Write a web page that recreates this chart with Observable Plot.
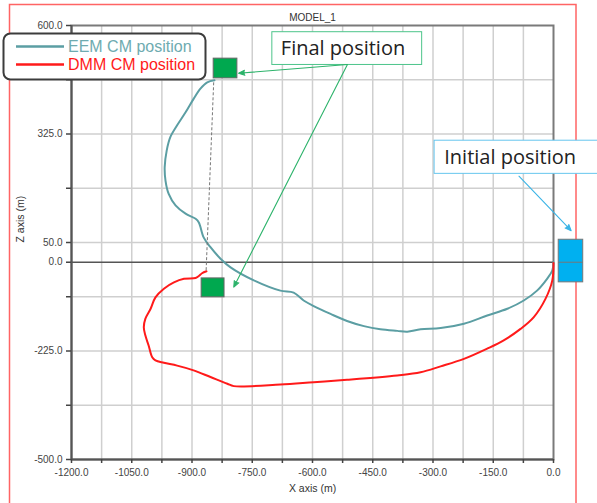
<!DOCTYPE html>
<html><head><meta charset="utf-8">
<script src="https://cdn.jsdelivr.net/npm/d3@7"></script>
<script src="https://cdn.jsdelivr.net/npm/@observablehq/plot@0.6"></script>
<style>
html,body{margin:0;padding:0;background:#fff;}
#wrap{position:relative;width:597px;height:503px;overflow:hidden;}
#wrap > svg{position:absolute;left:0;top:0;}
</style>
</head><body><div id="wrap"></div>
<script>
// ---- data (metres) ----
const title = "MODEL_1";
const xLabel = "X axis (m)";
const zLabel = "Z axis (m)";
const seriesNames = ["EEM CM position", "DMM CM position"];

const eemX = [0, -3, -16, -41, -74, -115, -165, -223, -281, -331, -364, -389, -431, -472, -514, -555, -597, -622, -647, -680, -746, -804, -829, -854, -871, -883, -891, -916, -941, -958, -966, -968, -963, -954, -937, -916, -896, -879, -862, -844];
const eemZ = [0, -21, -42, -72, -97, -118, -135, -156, -167, -170, -176, -174, -170, -162, -149, -131, -111, -97, -77, -72, -46, -13, 9, 38, 63, 101, 110, 123, 144, 173, 207, 241, 283, 317, 347, 380, 414, 440, 456, 461];

const dmmX = [0, -3, -20, -49, -82, -124, -165, -223, -281, -331, -389, -514, -597, -680, -796, -812, -854, -896, -937, -970, -991, -999, -1008, -1016, -1020, -1016, -1003, -991, -970, -945, -920, -891, -883, -875, -864];
const dmmZ = [-2, -46, -93, -139, -169, -198, -219, -245, -264, -279, -287, -298, -304, -310, -314, -308, -291, -274, -262, -255, -249, -241, -211, -186, -165, -143, -118, -89, -67, -51, -42, -40, -35, -28, -23];

const xTicks = [-1200, -1125, -1050, -975, -900, -825, -750, -675, -600, -525, -450, -375, -300, -225, -150, -75, 0];
const xTickLabels = [-1200, -1050, -900, -750, -600, -450, -300, -150, 0];
const zTicks = [600, 462.5, 325, 187.5, 50, 0, -87.5, -225, -362.5, -500];
const zTickLabels = [600, 325, 50, 0, -225, -500];
const zGrid = [462.5, 325, 187.5, 50, -87.5, -225, -362.5];

// annotations (data units)
const finalSqX1 = [-846, -876], finalSqX2 = [-787, -819];
const finalSqZ1 = [466, -89], finalSqZ2 = [516, -41];
const initSqX1 = [13], initSqX2 = [74], initSqZ1 = [-51], initSqZ2 = [57];
const finalNote = {text: "Final position", x1: -700, x2: -327, z1: 500, z2: 583, tx: -524, tz: 541};
const initNote = {text: "Initial position", x1: -296, x2: 160, z1: 224, z2: 308, tx: -108, tz: 266};
const finalArrowX1 = [-513, -513], finalArrowZ1 = [501, 501];
const finalArrowX2 = [-784, -796], finalArrowZ2 = [479, -63];
const initArrowX1 = [-86], initArrowZ1 = [218], initArrowX2 = [44], initArrowZ2 = [80];
const linkX = [-846, -865], linkZ = [456, -25];

const eemColor = "#5b9ea3", dmmColor = "#ff1a1a";

const wrap = document.getElementById("wrap");

// outer red border (behind)
const bg = d3.create("svg").attr("width", 597).attr("height", 503);
bg.append("rect").attr("x", 9.5).attr("y", 4.5).attr("width", 566.5).attr("height", 530)
  .attr("fill", "none").attr("stroke", "#ff6464").attr("stroke-width", 1.5);
wrap.append(bg.node());

const eem = eemX.map((x, i) => ({x, z: eemZ[i]}));
const dmm = dmmX.map((x, i) => ({x, z: dmmZ[i]}));
const finalSq = finalSqX1.map((d, i) => ({x1: d, x2: finalSqX2[i], z1: finalSqZ1[i], z2: finalSqZ2[i]}));
const initSq = initSqX1.map((d, i) => ({x1: d, x2: initSqX2[i], z1: initSqZ1[i], z2: initSqZ2[i]}));
const fArrows = finalArrowX1.map((d, i) => ({x1: d, z1: finalArrowZ1[i], x2: finalArrowX2[i], z2: finalArrowZ2[i]}));
const iArrows = initArrowX1.map((d, i) => ({x1: d, z1: initArrowZ1[i], x2: initArrowX2[i], z2: initArrowZ2[i]}));

const fmt = d => d.toFixed(1);

const chart = Plot.plot({
  width: 597, height: 503,
  marginLeft: 71, marginRight: 44, marginTop: 25, marginBottom: 44,
  style: {background: "transparent", fontFamily: "'Liberation Sans', Arial, sans-serif", fontSize: "10px", color: "#444"},
  x: {domain: [-1200, 0], label: null},
  y: {domain: [-500, 600], label: null},
  marks: [
    Plot.gridX(xTicks.slice(1, -1), {stroke: "#cfcfcf", strokeOpacity: 1, strokeWidth: 1.5}),
    Plot.gridY(zGrid, {stroke: "#cfcfcf", strokeOpacity: 1, strokeWidth: 1.5}),
    Plot.frame({stroke: "#7a7a7a", strokeWidth: 2}),
    Plot.ruleX([-1200], {stroke: "#555", strokeWidth: 2}),
    Plot.ruleY([-500], {stroke: "#555", strokeWidth: 2}),
    Plot.ruleY([0], {stroke: "#555", strokeWidth: 1.5}),
    Plot.axisX(xTicks, {tickSize: 4, tickPadding: 5, stroke: "#444", strokeWidth: 1.5, fill: "#444",
      tickFormat: d => xTickLabels.includes(d) ? fmt(d) : "", label: null}),
    Plot.axisY(zTicks, {tickSize: 5, tickPadding: 4, stroke: "#444", strokeWidth: 1.5, fill: "#444",
      tickFormat: d => zTickLabels.includes(d) ? fmt(d) : "", label: null}),
    Plot.text([title], {frameAnchor: "top", dy: -12, fontSize: 10, fill: "#333"}),
    Plot.text([xLabel], {frameAnchor: "bottom", dy: 32, fontSize: 10.5, fill: "#333"}),
    Plot.text([zLabel], {frameAnchor: "left", dx: -51, rotate: -90, fontSize: 10.5, fill: "#333"}),
    Plot.line(eem, {x: "x", y: "z", stroke: eemColor, strokeWidth: 2, curve: "catmull-rom"}),
    Plot.line(dmm, {x: "x", y: "z", stroke: dmmColor, strokeWidth: 2, curve: "catmull-rom"}),
    Plot.link([0], {x1: linkX[0], y1: linkZ[0], x2: linkX[1], y2: linkZ[1], stroke: "#777", strokeWidth: 1, strokeDasharray: "3,2"}),
    Plot.rect(finalSq, {x1: "x1", x2: "x2", y1: "z1", y2: "z2", fill: "#00a84f", stroke: "#666", strokeWidth: 1}),
    Plot.rect(initSq, {x1: "x1", x2: "x2", y1: "z1", y2: "z2", fill: "#00b0f0", stroke: "#777", strokeWidth: 1}),
    Plot.ruleY([0], {x1: initSqX1[0], x2: initSqX2[0], stroke: "#777", strokeWidth: 1}),
    Plot.rect([finalNote], {x1: "x1", x2: "x2", y1: "z1", y2: "z2", fill: "white", stroke: "#4cc48a", strokeWidth: 1}),
    Plot.rect([initNote], {x1: "x1", x2: "x2", y1: "z1", y2: "z2", fill: "white", stroke: "#66c6ee", strokeWidth: 1}),
    Plot.text([finalNote], {x: "tx", y: "tz", text: "text", fontFamily: "'Open Sans', sans-serif", fontSize: 20, fill: "#222"}),
    Plot.text([initNote], {x: "tx", y: "tz", text: "text", fontFamily: "'Open Sans', sans-serif", fontSize: 20, fill: "#222"}),
    Plot.arrow(fArrows, {x1: "x1", y1: "z1", x2: "x2", y2: "z2", stroke: "#2db36b", fill: "#2db36b", strokeWidth: 1.1, headLength: 9, headAngle: 45}),
    Plot.arrow(iArrows, {x1: "x1", y1: "z1", x2: "x2", y2: "z2", stroke: "#3ab4e6", fill: "#3ab4e6", strokeWidth: 1.1, headLength: 9, headAngle: 45})
  ]
});
wrap.append(chart);

// legend (on top)
const lg = d3.create("svg").attr("width", 597).attr("height", 503).style("pointer-events", "none");
lg.append("rect").attr("x", 3.5).attr("y", 33.5).attr("width", 202).attr("height", 46).attr("rx", 7)
  .attr("fill", "#fff").attr("stroke", "#3c3c3c").attr("stroke-width", 2);
const items = [{name: seriesNames[0], line: eemColor, text: "#6eabb0", y: 46.5}, {name: seriesNames[1], line: dmmColor, text: "#ff1a1a", y: 64.5}];
for (const it of items) {
  lg.append("line").attr("x1", 16).attr("x2", 64).attr("y1", it.y).attr("y2", it.y).attr("stroke", it.line).attr("stroke-width", 2.5);
  lg.append("text").attr("x", 68).attr("y", it.y + 5).attr("fill", it.text)
    .attr("font-family", "'Liberation Sans', Arial, sans-serif").attr("font-size", 16).text(it.name);
}
wrap.append(lg.node());
</script>
</body></html>
